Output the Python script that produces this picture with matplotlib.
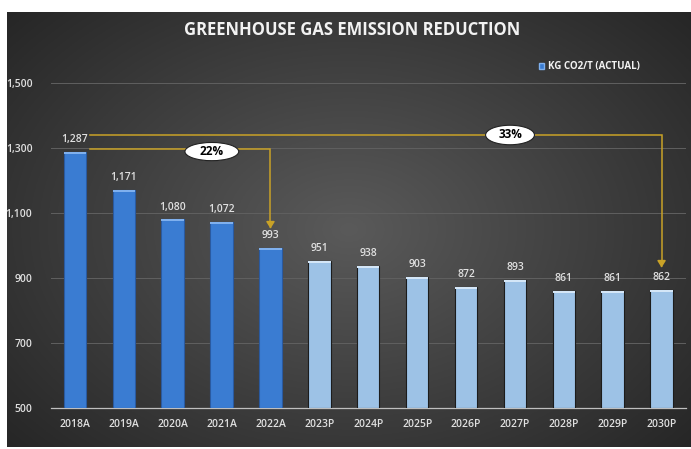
import numpy as np
import matplotlib
matplotlib.use("Agg")
import matplotlib.pyplot as plt
from matplotlib.patches import Ellipse, Patch

plt.rcParams['font.family'] = ['Open Sans', 'DejaVu Sans']

categories = ["2018A", "2019A", "2020A", "2021A", "2022A", "2023P", "2024P",
              "2025P", "2026P", "2027P", "2028P", "2029P", "2030P"]
values = [1287, 1171, 1080, 1072, 993, 951, 938, 903, 872, 893, 861, 861, 862]
actual_flags = [True] * 5 + [False] * 8
yticks = [500, 700, 900, 1100, 1300, 1500]
title = "GREENHOUSE GAS EMISSION REDUCTION"
legend_label = "KG CO2/T (ACTUAL)"
pct_labels = ["22%", "33%"]

W, H = 691, 449
fig = plt.figure(figsize=(W / 100, H / 100), dpi=100, facecolor="white")

# dark radial-gradient panel
px0, px1, py0, py1 = 7, 691, 12, 447
bg = fig.add_axes([px0 / W, 1 - py1 / H, (px1 - px0) / W, (py1 - py0) / H])
gx = np.linspace(-1, 1, 400)
gy = np.linspace(-1, 1, 260)
X, Y = np.meshgrid(gx, gy)
R = np.sqrt(X ** 2 + (Y * 0.9) ** 2)
R = np.clip(R / 1.35, 0, 1)
c_center = np.array([0x5a, 0x5a, 0x5a]) / 255
c_edge = np.array([0x26, 0x26, 0x26]) / 255
img = c_center[None, None, :] * (1 - R[..., None]) + c_edge[None, None, :] * R[..., None]
bg.imshow(img, aspect="auto", extent=[0, 1, 0, 1])
bg.set_axis_off()

# main axes
left, right = 50.5, 686
bottom_px, top_px = 408, 83
ax = fig.add_axes([left / W, 1 - bottom_px / H, (right - left) / W, (bottom_px - top_px) / H])
ax.patch.set_alpha(0)
x = np.arange(len(categories))
cols = ["#3a7cd2" if a else "#9dc2e6" for a in actual_flags]
edges = ["#2a5aa0" if a else "#1c1c1c" for a in actual_flags]
ax.bar(x, [v - 500 for v in values], bottom=500, width=0.46, color=cols,
       edgecolor=edges, linewidth=0.8, zorder=3)
# lighter top cap
for xi, v, a in zip(x, values, actual_flags):
    ax.bar(xi, 6, bottom=v - 6, width=0.46, color="#7fb0ee" if a else "#d4e6f7",
           linewidth=0, zorder=4)

for xi, v in zip(x, values):
    ax.annotate(f"{v:,}", (xi, v), xytext=(0, 5), textcoords="offset points",
                ha="center", va="bottom", color="#e0e0e0", fontsize=7.5,
                fontweight="semibold", zorder=5)

ax.set_xlim(-0.5, len(categories) - 0.5)
ax.set_ylim(500, 1500)
ax.set_yticks(yticks)
ax.set_yticklabels([f"{t:,}" for t in yticks])
ax.set_xticks(x)
ax.set_xticklabels(categories)
ax.tick_params(axis="both", length=0, colors="#e0e0e0", labelsize=7.5)
ax.tick_params(axis="x", pad=8)
ax.tick_params(axis="y", pad=13)
for lab in ax.get_xticklabels() + ax.get_yticklabels():
    lab.set_fontweight("semibold")
ax.grid(axis="y", color="#606060", linewidth=0.7, zorder=0)
for s in ["top", "right", "left"]:
    ax.spines[s].set_visible(False)
ax.spines["bottom"].set_color("#bfbfbf")
ax.spines["bottom"].set_linewidth(0.9)

# annotation lines
gold = "#c9a227"
def bracket(y0, x_end, y_tip, label, xlab, ylab, ew, eh):
    ax.plot([0.31, x_end, x_end], [y0, y0, y_tip + 12], color=gold, lw=1.1, zorder=6,
            solid_joinstyle="miter")
    ax.annotate("", xy=(x_end, y_tip), xytext=(x_end, y_tip + 14),
                arrowprops=dict(arrowstyle="-|>,head_width=0.25,head_length=0.4",
                                color=gold, lw=1.1), zorder=6)
    ax.add_patch(Ellipse((xlab, ylab), ew, eh,
                         facecolor="white", edgecolor="#222222", lw=0.8, zorder=7))
    ax.text(xlab, ylab, label, ha="center", va="center",
            fontsize=8.5, fontweight="bold", color="black", zorder=8)

bracket(1297, 4, 1052, pct_labels[0], 2.8, 1289, 1.1, 56)
bracket(1340, 12, 932, pct_labels[1], 8.9, 1340, 1.0, 60)

# title
fig.text(352 / W, 1 - 30 / H, title, ha="center", va="center", color="#f2f2f2",
         fontsize=12, fontweight="bold")

# legend
leg = fig.legend(handles=[Patch(facecolor="#3a7cd2", edgecolor="#7fb0ee")], labels=[legend_label],
                 loc="center left", bbox_to_anchor=(530 / W, 1 - 67 / H), frameon=False,
                 handlelength=0.5, handleheight=0.5, handletextpad=0.4, fontsize=7)
for t in leg.get_texts():
    t.set_color("#f2f2f2")
    t.set_fontweight("bold")

fig.savefig("out.png", dpi=100, facecolor="white")
